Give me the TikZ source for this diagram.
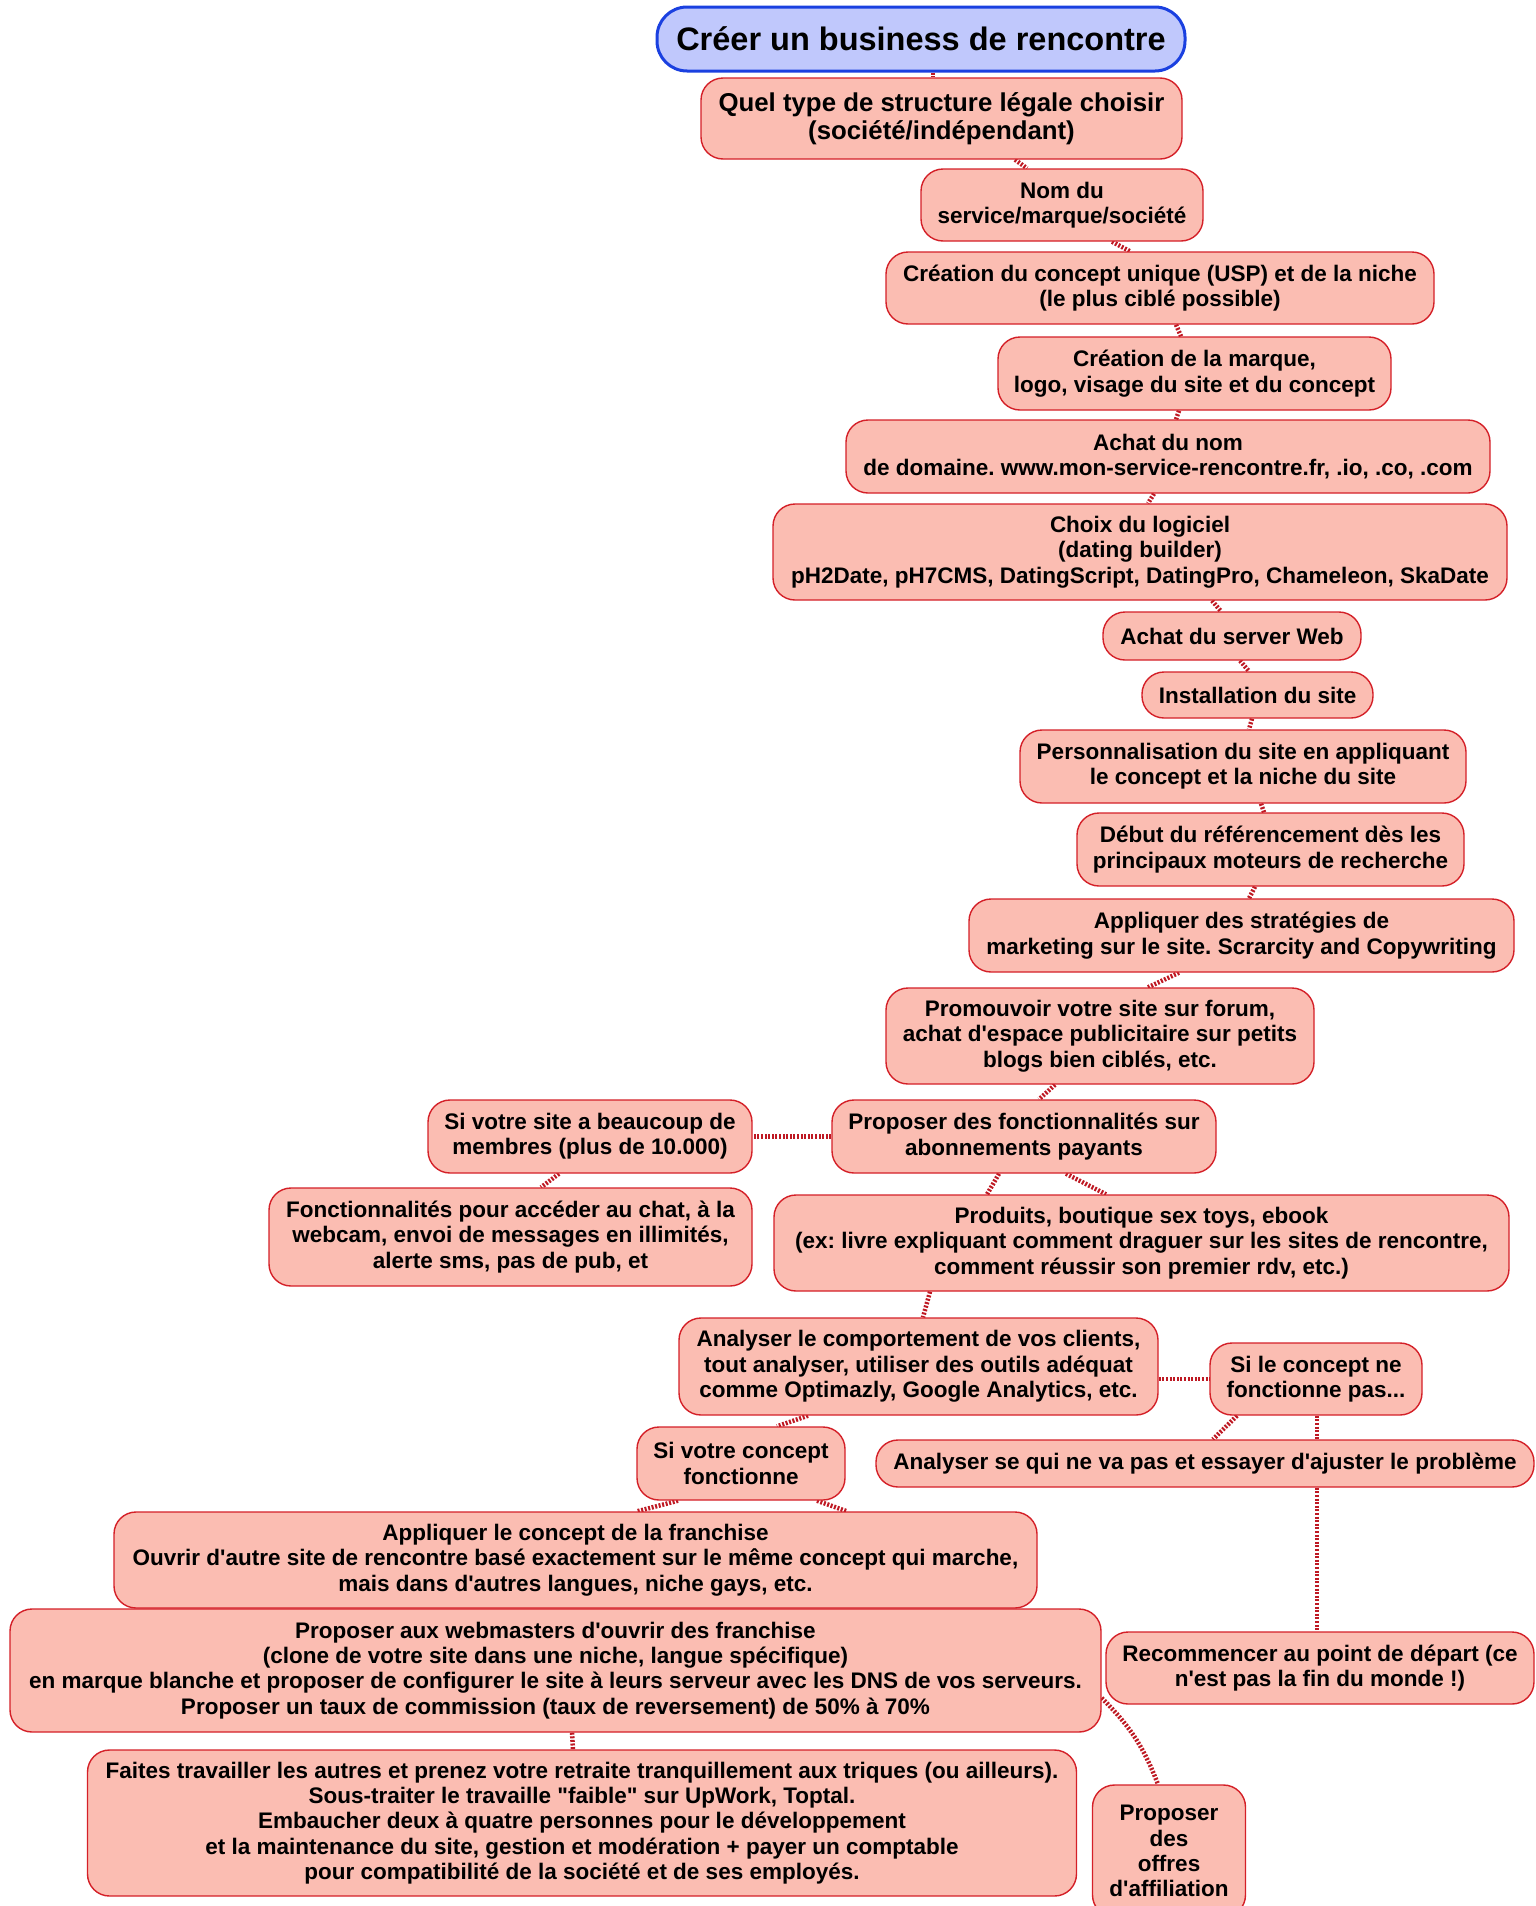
\documentclass[tikz,border=0pt]{standalone}
\usepackage{fontspec}
\setmainfont{Liberation Sans}
\usetikzlibrary{backgrounds}
\newcommand\sq{\XeTeXglyph\XeTeXcharglyph"27\relax}
\newcommand\dq{\XeTeXglyph\XeTeXcharglyph"22\relax}
\definecolor{boxfill}{RGB}{251,189,178}
\definecolor{boxdraw}{RGB}{212,32,40}
\definecolor{titlefill}{RGB}{192,200,252}
\definecolor{titledraw}{RGB}{26,64,224}
\definecolor{connred}{RGB}{190,25,35}
\tikzset{
  box/.style={draw=boxdraw, fill=boxfill, line width=1.4pt, rounded corners=22pt,
    align=center, inner sep=2pt, font=\frenchspacing\bfseries\fontsize{22.5}{25.3}\selectfont},
  titlebox/.style={draw=titledraw, fill=titlefill, line width=3pt, rounded corners=30pt,
    align=center, inner sep=2pt, font=\bfseries\fontsize{32.5}{38}\selectfont},
  conn/.style={draw=connred, line width=4.5pt, dash pattern=on 2pt off 1.6pt},
}
\begin{document}
\begin{tikzpicture}[x=1pt,y=-1pt]
\useasboundingbox (0,0) rectangle (1536,1906);
\node[titlebox, minimum width=528pt, minimum height=64pt] (title) at (921,39) {Créer un business de rencontre};
\node[box, font=\frenchspacing\bfseries\fontsize{25.8}{28.5}\selectfont, minimum width=481pt, minimum height=81pt] (quel) at (941.5,118.5) {Quel type de structure légale choisir\\(société/indépendant)};
\node[box, minimum width=282pt, minimum height=72pt] (nom) at (1062,205) {Nom du\\service/marque/société};
\node[box, minimum width=548pt, minimum height=72pt] (usp) at (1160,288) {Création du concept unique (USP) et de la niche\\(le plus ciblé possible)};
\node[box, minimum width=393pt, minimum height=73pt] (marque) at (1194.5,373.5) {Création de la marque,\\logo, visage du site et du concept};
\node[box, minimum width=644pt, minimum height=73pt] (achat) at (1168,456.5) {Achat du nom\\de domaine. www.mon-service-rencontre.fr, .io, .co, .com};
\node[box, minimum width=734pt, minimum height=96pt] (choix) at (1140,552) {Choix du logiciel\\(dating builder)\\pH2Date, pH7CMS, DatingScript, DatingPro, Chameleon, SkaDate};
\node[box, minimum width=258pt, minimum height=48pt] (server) at (1232,636) {Achat du server Web};
\node[box, minimum width=231pt, minimum height=46pt] (install) at (1257.5,695) {Installation du site};
\node[box, minimum width=446pt, minimum height=73pt] (perso) at (1243,766.5) {Personnalisation du site en appliquant\\le concept et la niche du site};
\node[box, minimum width=387pt, minimum height=73pt] (debut) at (1270.5,849.5) {Début du référencement dès les\\principaux moteurs de recherche};
\node[box, minimum width=545pt, minimum height=73pt] (appl) at (1241.5,935.5) {Appliquer des stratégies de\\marketing sur le site. Scrarcity and Copywriting};
\node[box, minimum width=428pt, minimum height=96pt] (promo) at (1100,1036) {Promouvoir votre site sur forum,\\achat d\sq espace publicitaire sur petits\\blogs bien ciblés, etc.};
\node[box, minimum width=384pt, minimum height=73pt] (fonc) at (1024,1136.5) {Proposer des fonctionnalités sur\\abonnements payants};
\node[box, minimum width=324pt, minimum height=73pt] (sisite) at (590,1136.5) {Si votre site a beaucoup de\\membres (plus de 10.000)};
\node[box, minimum width=483pt, minimum height=98pt] (fonctions) at (510.5,1237) {Fonctionnalités pour accéder au chat, à la\\webcam, envoi de messages en illimités,\\alerte sms, pas de pub, et};
\node[box, minimum width=735pt, minimum height=96pt] (produits) at (1141.5,1243) {Produits, boutique sex toys, ebook\\(ex: livre expliquant comment draguer sur les sites de rencontre,\\comment réussir son premier rdv, etc.)};
\node[box, minimum width=479pt, minimum height=97pt] (analyser) at (918.5,1366.5) {Analyser le comportement de vos clients,\\tout analyser, utiliser des outils adéquat\\comme Optimazly, Google Analytics, etc.};
\node[box, minimum width=212pt, minimum height=72pt] (silecon) at (1316,1379) {Si le concept ne\\fonctionne pas...};
\node[box, minimum width=658pt, minimum height=47pt] (ajuster) at (1205,1463.5) {Analyser se qui ne va pas et essayer d\sq ajuster le problème};
\node[box, minimum width=208pt, minimum height=73pt] (sivc) at (741,1463.5) {Si votre concept\\fonctionne};
\node[box, minimum width=923pt, minimum height=96pt] (franchise) at (575.5,1560) {Appliquer le concept de la franchise\\Ouvrir d\sq autre site de rencontre basé exactement sur le même concept qui marche,\\mais dans d\sq autres langues, niche gays, etc.};
\node[box, minimum width=1091pt, minimum height=123pt] (webm) at (555.5,1670.5) {Proposer aux webmasters d\sq ouvrir des franchise\\(clone de votre site dans une niche, langue spécifique)\\en marque blanche et proposer de configurer le site à leurs serveur avec les DNS de vos serveurs.\\Proposer un taux de commission (taux de reversement) de 50\% à 70\%};
\node[box, minimum width=428pt, minimum height=72pt] (recomm) at (1320,1668) {Recommencer au point de départ (ce\\n\sq est pas la fin du monde !)};
\node[box, minimum width=989pt, minimum height=146pt] (faites) at (582,1823) {Faites travailler les autres et prenez votre retraite tranquillement aux triques (ou ailleurs).\\Sous-traiter le travaille \dq faible\dq{} sur UpWork, Toptal.\\Embaucher deux à quatre personnes pour le développement\\et la maintenance du site, gestion et modération + payer un comptable\\pour compatibilité de la société et de ses employés.};
\node[box, minimum width=153pt, minimum height=132pt] (offres) at (1169,1851) {Proposer\\des\\offres\\d\sq affiliation};
\begin{pgfonlayer}{background}
\draw[conn] ([xshift=12pt]title.south) -- ([xshift=-8.5pt]quel.north);
\draw[conn] ([xshift=73.5pt]quel.south) -- ([xshift=-35pt]nom.north);
\draw[conn] ([xshift=50pt]nom.south) -- ([xshift=-30pt]usp.north);
\draw[conn] ([xshift=16pt]usp.south) -- ([xshift=-13.5pt]marque.north);
\draw[conn] ([xshift=-15.5pt]marque.south) -- ([xshift=8pt]achat.north);
\draw[conn] ([xshift=-14pt]achat.south) -- ([xshift=8pt]choix.north);
\draw[conn] ([xshift=72pt]choix.south) -- ([xshift=-11pt]server.north);
\draw[conn] ([xshift=8pt]server.south) -- ([xshift=-8.5pt]install.north);
\draw[conn] ([xshift=-5.5pt]install.south) -- ([xshift=6pt]perso.north);
\draw[conn] ([xshift=18pt]perso.south) -- ([xshift=-6.5pt]debut.north);
\draw[conn] ([xshift=-15.5pt]debut.south) -- ([xshift=7.5pt]appl.north);
\draw[conn] ([xshift=-62.5pt]appl.south) -- ([xshift=48pt]promo.north);
\draw[conn] ([xshift=-45pt]promo.south) -- ([xshift=15pt]fonc.north);
\draw[conn] (fonc.west) -- (sisite.east);
\draw[conn] ([xshift=-31pt]sisite.south) -- ([xshift=30.5pt]fonctions.north);
\draw[conn] ([xshift=-25pt]fonc.south) -- ([xshift=-154.5pt]produits.north);
\draw[conn] ([xshift=42pt]fonc.south) -- ([xshift=-35.5pt]produits.north);
\draw[conn] ([xshift=-211.5pt]produits.south) -- ([xshift=4.5pt]analyser.north);
\draw[conn] (silecon.west -| analyser.east) -- (silecon.west);
\draw[conn] ([xshift=-79pt]silecon.south) -- ([xshift=8pt]ajuster.north);
\draw[conn] ([xshift=1pt]silecon.south) -- ([xshift=-3pt]recomm.north);
\draw[conn] ([xshift=-110.5pt]analyser.south) -- ([xshift=36pt]sivc.north);
\draw[conn] ([xshift=-63pt]sivc.south) -- ([xshift=61.5pt]franchise.north);
\draw[conn] ([xshift=76pt]sivc.south) -- ([xshift=271.5pt]franchise.north);
\draw[conn] ([xshift=16.5pt]webm.south) -- ([xshift=-9pt]faites.north);
\draw[conn] ([yshift=-27.5pt]webm.east) to[bend left=12] ([xshift=-11pt]offres.north);
\end{pgfonlayer}
\end{tikzpicture}
\end{document}
